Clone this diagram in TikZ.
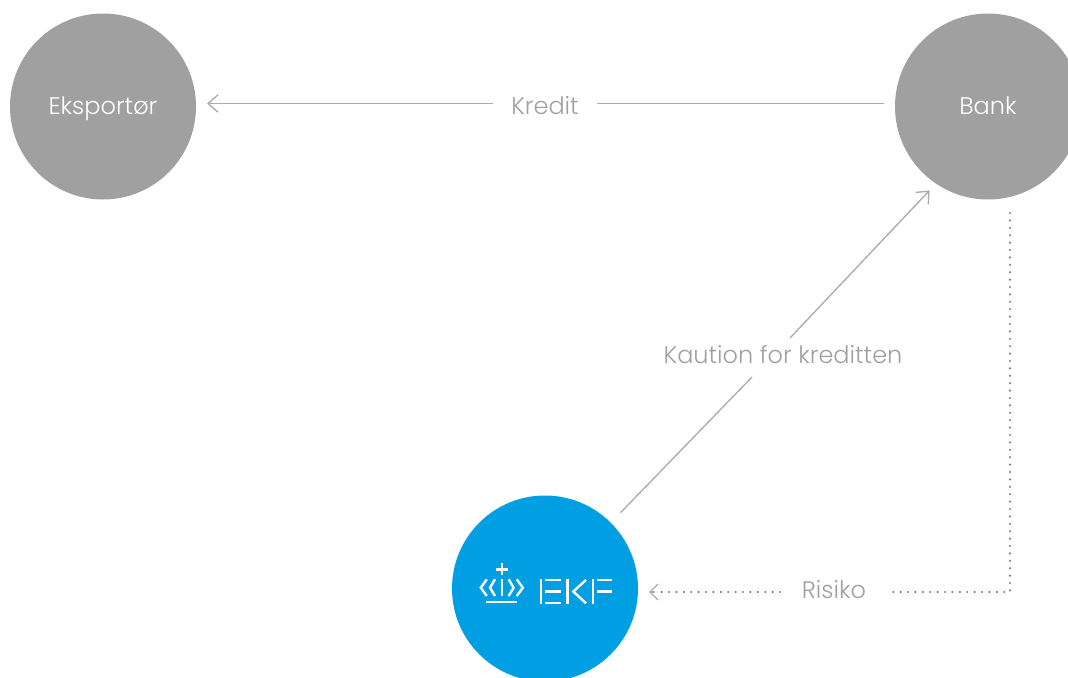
\documentclass[tikz,border=0pt]{standalone}
\usepackage{fontspec}
\setmainfont{Poppins}[UprightFont=* Light]
\usetikzlibrary{arrows.meta}
\definecolor{ekfgray}{HTML}{A0A0A0}
\definecolor{ekfline}{HTML}{ABABAB}
\definecolor{ekfblue}{HTML}{009FE3}
\tikzset{
    actor/.style={circle, fill=ekfgray, minimum size=139.5pt, inner sep=0pt, outer sep=0pt, text=white, font=\fontsize{18pt}{20pt}\selectfont, text height=14pt, text depth=2pt},
    flowlabel/.style={inner sep=0pt, outer sep=0pt, text=ekfgray, font=\fontsize{18pt}{20pt}\selectfont, text depth=0pt},
    solidflow/.style={draw=ekfline, line width=1pt},
    dotflow/.style={draw=black!50, line width=1.8pt, line cap=round, dash pattern=on 0pt off 5.55pt},
    logoline/.style={draw=white, line width=1.8pt}
}
\begin{document}
\begin{tikzpicture}[x=0.75pt, y=-0.75pt]
    \useasboundingbox (0,0) rectangle (1068,678);

    \node[actor] (eksportor) at (103,106.5) {Eksportør};
    \node[actor] (bank) at (988,106.5) {Bank};
    \node[actor, fill=ekfblue] (ekf) at (545,588.5) {};

    \node[flowlabel, minimum width=78pt, text height=15.8pt] (kredit) at (545,103.5) {Kredit};
    \node[flowlabel, text height=12pt] (kaution) at (783,355) {Kaution for kreditten};
    \node[flowlabel, minimum width=81pt, text height=9pt] (risiko) at (834,592) {Risiko};

    \coordinate (kautionlow) at (752,377);
    \coordinate (kautionhigh) at (790,338);
    \coordinate (bankfoot) at (1010,213);
    \coordinate (bankcorner) at (1010,592);

    % kredit
    \draw[solidflow, -{Straight Barb[length=7.5pt, width=13pt]}, shorten >=8.25pt] (kredit.west) -- (eksportor.east |- kredit.west);
    \draw[solidflow, shorten >=8.25pt] (kredit.east) -- (bank.west |- kredit.east);

    % kaution
    \draw[solidflow, shorten <=10.5pt] (ekf.45) -- (kautionlow);
    \draw[solidflow, -{Straight Barb[length=7.5pt, width=13pt]}, shorten >=7pt] (kautionhigh) -- (bank.236);

    % risiko
    \draw[dotflow] (bankfoot) -- (bankcorner) -- (risiko.east);
    \draw[dotflow, shorten >=16pt] (risiko.west) -- (ekf.east |- risiko.west);
    \draw[solidflow, {Straight Barb[length=6pt, width=12pt]}-] (649,592) -- (655,592);

    % logo
    \draw[logoline] (495.7,569.3) -- (508,569.3);
    \draw[logoline] (501.8,563.3) -- (501.8,575);
    \draw[logoline] (501.8,579.3) -- (501.8,596);
    \foreach \s/\a/\b in {1/6.8/11.8, 1/15/21, -1/6.8/11.8, -1/15/21} {
        \draw[logoline] (501.8+\s*\a,579.3) -- (501.8+\s*\b,587.7) -- (501.8+\s*\a,596);
    }
    \draw[logoline] (486,602) -- (517.3,602);

    \draw[logoline] (540.7,579) -- (540.7,604);
    \foreach \y in {579.7,591.3,602.9} {
        \draw[logoline] (545,\y) -- (560.7,\y);
    }
    \draw[logoline] (567.3,579) -- (567.3,604);
    \draw[logoline] (586,580) -- (573.3,591.5) -- (586,603.3);
    \draw[logoline] (592.7,579) -- (592.7,604);
    \foreach \y in {579.7,591.3} {
        \draw[logoline] (597.3,\y) -- (612,\y);
    }
\end{tikzpicture}
\end{document}
